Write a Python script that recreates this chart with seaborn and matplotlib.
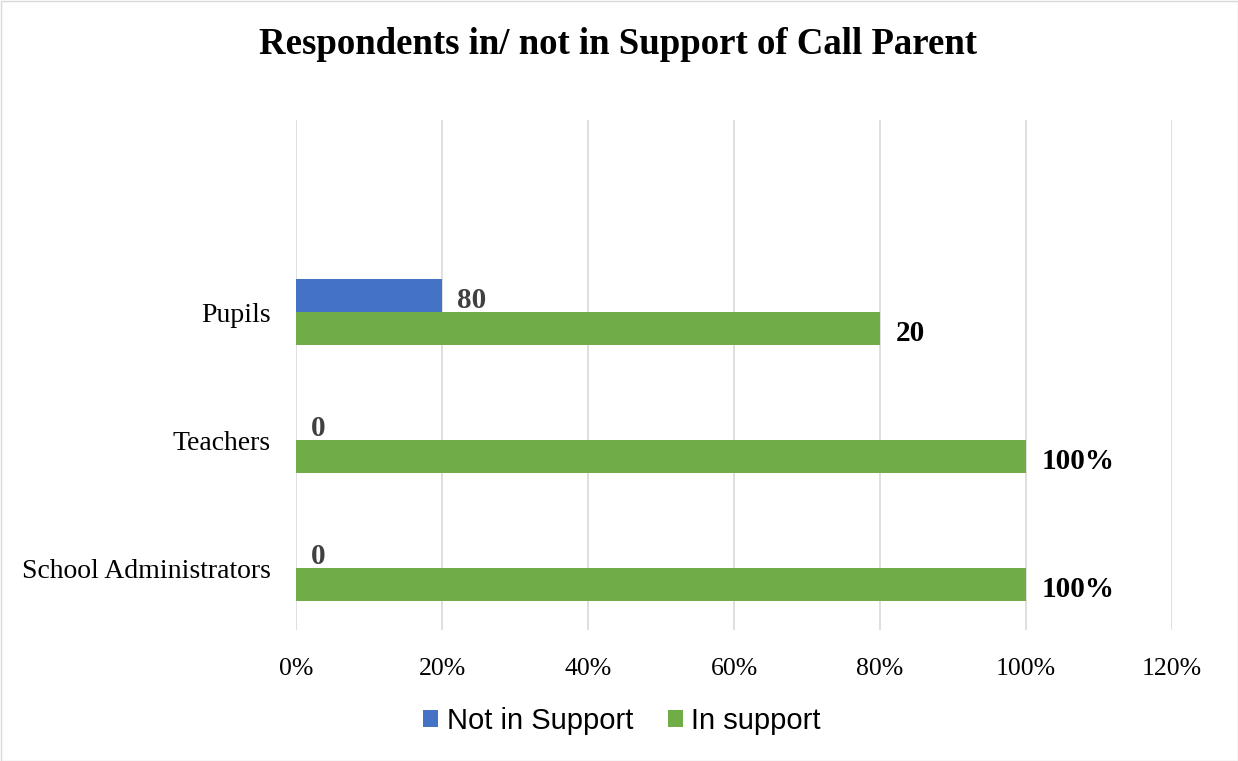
import matplotlib
matplotlib.use("Agg")
import matplotlib.pyplot as plt
import seaborn as sns
import pandas as pd
from matplotlib.patches import Patch

categories = ["Pupils", "Teachers", "School Administrators"]
series_names = ["Not in Support", "In support"]
not_in_support = [20, 0, 0]
in_support = [80, 100, 100]
labels_not = ["80", "0", "0"]
labels_in = ["20", "100%", "100%"]
xticks = [0, 20, 40, 60, 80, 100, 120]
xtick_labels = ["0%", "20%", "40%", "60%", "80%", "100%", "120%"]
colors = ["#4472C4", "#70AD47"]

df = pd.DataFrame({
    "cat": categories * 2,
    "series": [series_names[0]] * 3 + [series_names[1]] * 3,
    "value": not_in_support + in_support,
})

sns.set_theme(style="white")
plt.rcParams["font.family"] = ["Liberation Serif", "DejaVu Serif"]
plt.rcParams["text.color"] = "black"

fig = plt.figure(figsize=(12.38, 7.61), dpi=100)
ax = fig.add_axes([296 / 1238, 1 - 630 / 761, (1172 - 296) / 1238, (630 - 120) / 761])

sns.barplot(data=df, x="value", y="cat", hue="series", order=categories,
            hue_order=series_names, palette=colors, width=0.52, orient="h",
            ax=ax, legend=False, saturation=1, linewidth=0)

ax.set_xlim(0, 120)
ax.set_ylim(2.484, -1.5)
ax.set_xticks(xticks)
ax.set_xticklabels(xtick_labels, fontsize=18.5)
ax.tick_params(axis="y", labelsize=20, length=0, pad=18)
ax.tick_params(axis="x", length=0, pad=20)
ax.set_xlabel("")
ax.set_ylabel("")
for lab in ax.get_yticklabels() + ax.get_xticklabels():
    lab.set_color("black")
ax.grid(axis="x", color="#D9D9D9", linewidth=1.2)
ax.set_axisbelow(True)
for s in ax.spines.values():
    s.set_visible(False)

containers = ax.containers
anns = ax.bar_label(containers[0], labels=labels_not, padding=11, fontsize=21,
                    fontweight="bold", color="#404040")
anns += ax.bar_label(containers[1], labels=labels_in, padding=11, fontsize=21,
                     fontweight="bold", color="black")
for a in anns:
    a.xyann = (a.xyann[0], -3.5)

fig.text(618 / 1238, 1 - 45 / 761, "Respondents in/ not in Support of Call Parent",
         ha="center", va="center", fontsize=26.5, fontweight="bold", color="black")

handles = [Patch(facecolor=c, edgecolor="none") for c in colors]
fig.legend(handles, series_names, loc="center", bbox_to_anchor=(622 / 1238, 1 - 721 / 761),
           ncol=2, frameon=False, prop={"family": "Liberation Sans", "size": 21},
           handlelength=0.5, handleheight=0.5, handletextpad=0.3, columnspacing=1.2)

border = plt.Rectangle((0.5 / 1238, 0.5 / 761), 1 - 1 / 1238, 1 - 1 / 761, transform=fig.transFigure,
                       fill=False, edgecolor="#D9D9D9", linewidth=1)
fig.patches.append(border)

fig.savefig("out.png", dpi=100)
